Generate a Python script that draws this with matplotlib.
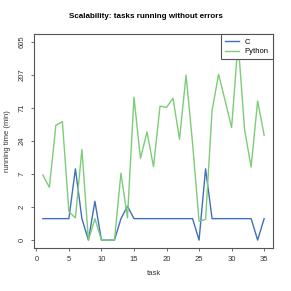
import numpy as np
import matplotlib
matplotlib.use('Agg')
import matplotlib.pyplot as plt

plt.rcParams['font.family'] = ['Liberation Sans', 'DejaVu Sans']

# running time (min) per task
task = list(range(1, 36))
c_time = [1, 1, 1, 1, 1, 9, 1, 0, 2.5, 0, 0, 0, 1, 2, 1, 1, 1, 1,
          1, 1, 1, 1, 1, 1, 0, 9, 1, 1, 1, 1, 1, 1, 1, 0, 1]
python_time = [7.2, 4.5, 40, 45, 1.5, 1.05, 17.7, 0, 1, 0, 0, 0, 7.7, 1.05, 100, 13, 32, 9.7,
               75, 72, 97, 25, 206, 22, 0.84, 0.95, 65, 212, 90, 37, 605, 34, 9.6, 89, 28.6]
y_labels = ['0', '2', '7', '24', '71', '207', '605']
x_ticks = [0, 5, 10, 15, 20, 25, 30, 35]


# log(1 + t) scale, ticks evenly spaced up to the max
c_log = np.log1p(c_time)
py_log = np.log1p(python_time)
ymax = max(c_log.max(), py_log.max())
y_ticks = np.linspace(0, ymax, len(y_labels))

fig = plt.figure(figsize=(2.91, 2.91), dpi=100)
ax = fig.add_axes([34 / 291, 1 - 248 / 291, 239 / 291, 214 / 291])

ax.plot(task, c_log, color='#3f6fbf', lw=1.0, label='C')
ax.plot(task, py_log, color='#7dcc78', lw=1.0, label='Python')

ax.set_xlim(1 - 0.04 * 34, 35 + 0.04 * 34)
ax.set_ylim(-0.04 * ymax, ymax * 1.04)

ax.set_xticks(x_ticks)
ax.set_yticks(y_ticks)
ax.set_yticklabels(y_labels, rotation=90, va='center')

for s in ax.spines.values():
    s.set_color('#555555')
    s.set_linewidth(0.8)
ax.tick_params(labelsize=5.5, length=2.5, width=0.6, color='#555555', pad=3.5, labelcolor='#333333')

ax.set_xlabel('task', fontsize=5.5, color='#333333', labelpad=5)
ax.set_ylabel('running time (min)', fontsize=5.5, color='#333333', labelpad=5.5)
fig.text(0.5, 1 - 17 / 291, 'Scalability: tasks running without errors',
         ha='center', va='center', fontsize=5.8, fontweight='bold')

leg = ax.legend(loc='upper right', fontsize=5.5, frameon=True, fancybox=False,
                borderaxespad=0, handlelength=1.8, handletextpad=0.8,
                borderpad=0.55, labelspacing=0.3)
leg.get_frame().set_edgecolor('#555555')
leg.get_frame().set_linewidth(0.8)
leg.get_frame().set_alpha(1)

fig.savefig('out.png', dpi=100)
